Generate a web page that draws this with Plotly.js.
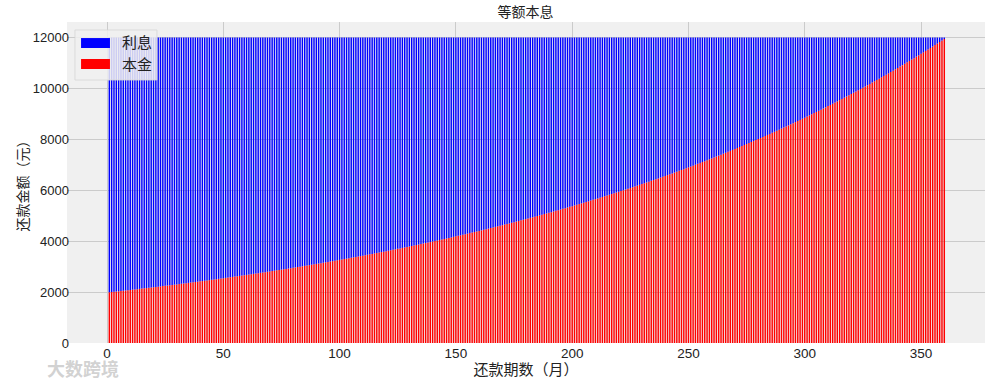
<!DOCTYPE html>
<html>
<head>
<meta charset="utf-8">
<script src="https://cdn.plot.ly/plotly-3.0.1.min.js"></script>
<style>
html,body{margin:0;padding:0;background:#fff;}
#chart{width:1003px;height:381px;}
.trace.bars path{shape-rendering:geometricPrecision !important;}
</style>
</head>
<body>
<div id="chart"></div>
<script>
// 等额本息：每月还款中的本金部分（元），第1期至第360期
const principal = [
1991,2001,2011,2021,2031,2041,2051,2062,2072,2082,2093,2103,
2114,2124,2135,2146,2156,2167,2178,2189,2200,2211,2222,2233,
2244,2255,2267,2278,2289,2301,2312,2324,2336,2347,2359,2371,
2383,2395,2406,2419,2431,2443,2455,2467,2480,2492,2504,2517,
2530,2542,2555,2568,2581,2593,2606,2619,2633,2646,2659,2672,
2686,2699,2712,2726,2740,2753,2767,2781,2795,2809,2823,2837,
2851,2865,2880,2894,2909,2923,2938,2953,2967,2982,2997,3012,
3027,3042,3057,3073,3088,3104,3119,3135,3150,3166,3182,3198,
3214,3230,3246,3262,3279,3295,3311,3328,3345,3361,3378,3395,
3412,3429,3446,3463,3481,3498,3516,3533,3551,3569,3586,3604,
3622,3641,3659,3677,3695,3714,3732,3751,3770,3789,3808,3827,
3846,3865,3884,3904,3923,3943,3963,3982,4002,4022,4043,4063,
4083,4103,4124,4145,4165,4186,4207,4228,4249,4271,4292,4313,
4335,4357,4378,4400,4422,4444,4467,4489,4511,4534,4557,4579,
4602,4625,4648,4672,4695,4718,4742,4766,4790,4814,4838,4862,
4886,4911,4935,4960,4985,5010,5035,5060,5085,5110,5136,5162,
5187,5213,5239,5266,5292,5318,5345,5372,5399,5426,5453,5480,
5507,5535,5563,5590,5618,5646,5675,5703,5732,5760,5789,5818,
5847,5876,5906,5935,5965,5995,6025,6055,6085,6116,6146,6177,
6208,6239,6270,6301,6333,6365,6396,6428,6460,6493,6525,6558,
6591,6624,6657,6690,6723,6757,6791,6825,6859,6893,6928,6962,
6997,7032,7067,7103,7138,7174,7210,7246,7282,7318,7355,7392,
7429,7466,7503,7541,7578,7616,7654,7693,7731,7770,7809,7848,
7887,7926,7966,8006,8046,8086,8126,8167,8208,8249,8290,8332,
8373,8415,8457,8500,8542,8585,8628,8671,8714,8758,8802,8846,
8890,8934,8979,9024,9069,9114,9160,9206,9252,9298,9344,9391,
9438,9485,9533,9580,9628,9676,9725,9773,9822,9871,9921,9970,
10020,10070,10121,10171,10222,10273,10325,10376,10428,10480,10533,10585,
10638,10691,10745,10799,10853,10907,10961,11016,11071,11127,11182,11238,
11294,11351,11408,11465,11522,11580,11637,11696,11754,11813,11872,11931
];
// 每月还款中的利息部分（元）
const interest = [
10000,9990,9980,9970,9960,9950,9940,9929,9919,9909,9898,9888,
9877,9867,9856,9845,9835,9824,9813,9802,9791,9780,9769,9758,
9747,9736,9724,9713,9702,9690,9679,9667,9655,9644,9632,9620,
9608,9596,9585,9572,9560,9548,9536,9524,9511,9499,9487,9474,
9461,9449,9436,9423,9410,9398,9385,9372,9358,9345,9332,9319,
9305,9292,9279,9265,9251,9238,9224,9210,9196,9182,9168,9154,
9140,9126,9111,9097,9082,9068,9053,9038,9024,9009,8994,8979,
8964,8949,8934,8918,8903,8887,8872,8856,8841,8825,8809,8793,
8777,8761,8745,8729,8712,8696,8680,8663,8646,8630,8613,8596,
8579,8562,8545,8528,8510,8493,8475,8458,8440,8422,8405,8387,
8369,8350,8332,8314,8296,8277,8259,8240,8221,8202,8183,8164,
8145,8126,8107,8087,8068,8048,8028,8009,7989,7969,7948,7928,
7908,7888,7867,7846,7826,7805,7784,7763,7742,7720,7699,7678,
7656,7634,7613,7591,7569,7547,7524,7502,7480,7457,7434,7412,
7389,7366,7343,7319,7296,7273,7249,7225,7201,7177,7153,7129,
7105,7080,7056,7031,7006,6981,6956,6931,6906,6881,6855,6829,
6804,6778,6752,6725,6699,6673,6646,6619,6592,6565,6538,6511,
6484,6456,6428,6401,6373,6345,6316,6288,6259,6231,6202,6173,
6144,6115,6085,6056,6026,5996,5966,5936,5906,5875,5845,5814,
5783,5752,5721,5690,5658,5626,5595,5563,5531,5498,5466,5433,
5400,5367,5334,5301,5268,5234,5200,5166,5132,5098,5063,5029,
4994,4959,4924,4888,4853,4817,4781,4745,4709,4673,4636,4599,
4562,4525,4488,4450,4413,4375,4337,4298,4260,4221,4182,4143,
4104,4065,4025,3985,3945,3905,3865,3824,3783,3742,3701,3659,
3618,3576,3534,3491,3449,3406,3363,3320,3277,3233,3189,3145,
3101,3057,3012,2967,2922,2877,2831,2785,2739,2693,2647,2600,
2553,2506,2458,2411,2363,2315,2266,2218,2169,2120,2070,2021,
1971,1921,1870,1820,1769,1718,1666,1615,1563,1511,1458,1406,
1353,1300,1246,1192,1138,1084,1030,975,920,864,809,753,
697,640,583,526,469,411,354,295,237,178,119,60
];
const seriesNames = ['本金', '利息'];
const xTicks = [0, 50, 100, 150, 200, 250, 300, 350];
const yTicks = [0, 2000, 4000, 6000, 8000, 10000, 12000];
const chartTitle = '等额本息';
const xTitle = '还款期数（月）';
const yTitle = '还款金额（元）';
const watermark = '大数跨境';

const FONT = "'Liberation Sans', 'Noto Sans CJK SC', sans-serif";

const traces = [
  {type: 'bar', name: seriesNames[0], y: principal, x0: 1, dx: 1, width: 0.62,
   marker: {color: '#ff0000', line: {width: 0}}, showlegend: false},
  {type: 'bar', name: seriesNames[1], y: interest, x0: 1, dx: 1, width: 0.62,
   marker: {color: '#0000ff', line: {width: 0}}, showlegend: false}
];

// legend drawn in paper coordinates (wide colour patches like the original)
const legendItems = [
  {label: seriesNames[1], color: '#0000ff', y0: 0.919, y1: 0.950, ty: 0.935},
  {label: seriesNames[0], color: '#ff0000', y0: 0.8536, y1: 0.8847, ty: 0.868}
];
const shapes = [{type: 'rect', xref: 'paper', yref: 'paper', x0: 0.0087, x1: 0.098, y0: 0.8193, y1: 0.9751,
  fillcolor: 'rgba(240,240,240,0.85)', line: {color: '#d6d6d6', width: 0.8}}];
const annotations = [];
legendItems.forEach(it => {
  shapes.push({type: 'rect', xref: 'paper', yref: 'paper', x0: 0.0153, x1: 0.0468, y0: it.y0, y1: it.y1,
    fillcolor: it.color, line: {width: 0}});
  annotations.push({xref: 'paper', yref: 'paper', x: 0.0763, y: it.ty, text: it.label, showarrow: false,
    xanchor: 'center', yanchor: 'middle', font: {family: FONT, size: 15, color: '#222'}});
});
annotations.push({xref: 'paper', yref: 'paper', x: -0.024, y: -0.082, xanchor: 'left', yanchor: 'middle',
  text: '<b>' + watermark + '</b>', showarrow: false, font: {family: FONT, size: 18, color: 'rgba(195,195,195,0.75)'}});

const layout = {
  width: 1003, height: 381,
  margin: {l: 67, r: 18, t: 22, b: 38, pad: 0},
  paper_bgcolor: '#ffffff', plot_bgcolor: '#f0f0f0',
  barmode: 'stack', bargap: 0.2,
  showlegend: false,
  title: {text: chartTitle, x: 0.524, xanchor: 'center', y: 0.968, yanchor: 'middle',
    font: {family: FONT, size: 14, color: '#222'}},
  xaxis: {range: [-17.2, 377.5], tickvals: xTicks, ticktext: xTicks.map(String),
    showgrid: true, gridcolor: '#cbcbcb', gridwidth: 1, zeroline: false, showline: false,
    ticks: '', tickfont: {family: FONT, size: 13.5, color: '#222'},
    title: {text: xTitle, standoff: 0, font: {family: FONT, size: 15, color: '#222'}}},
  yaxis: {range: [0, 12600], tickvals: yTicks, ticktext: yTicks.map(String),
    showgrid: true, gridcolor: '#cbcbcb', gridwidth: 1, zeroline: false, showline: false,
    ticks: '', ticklabelstandoff: -3, tickfont: {family: FONT, size: 13, color: '#222'},
    title: {text: yTitle, standoff: 0, font: {family: FONT, size: 14, color: '#222'}}},
  shapes: shapes,
  annotations: annotations
};

Plotly.newPlot('chart', traces, layout, {displayModeBar: false, staticPlot: true});
</script>
</body>
</html>
